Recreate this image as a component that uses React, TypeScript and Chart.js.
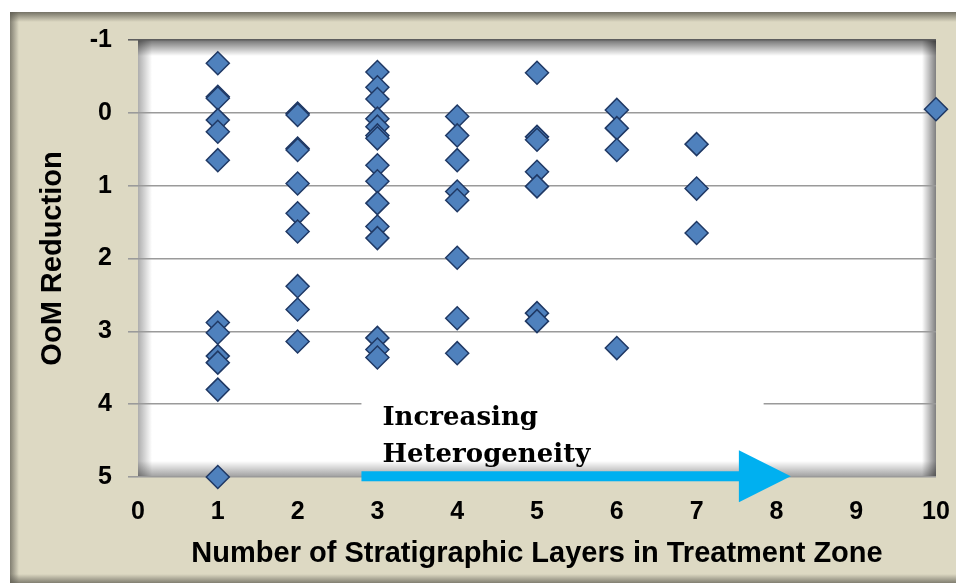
import React, { useEffect, useRef } from "react";
import { Chart, registerables } from "chart.js";

Chart.register(...registerables);

// ---- data (x = number of stratigraphic layers, y = OoM reduction) ----
const layerCounts = [1, 2, 3, 4, 5, 6, 7, 10];
const oomLayers1 = [-0.68, -0.22, -0.2, 0.1, 0.26, 0.65, 2.88, 3.02, 3.34, 3.43, 3.8, 5.0];
const oomLayers2 = [0.01, 0.03, 0.49, 0.51, 0.97, 1.38, 1.63, 2.38, 2.7, 3.14];
const oomLayers3 = [-0.56, -0.35, -0.19, 0.08, 0.19, 0.31, 0.35, 0.72, 0.94, 1.24, 1.56, 1.72, 3.09, 3.25, 3.36];
const oomLayers4 = [0.05, 0.31, 0.65, 1.08, 1.2, 1.99, 2.82, 3.3];
const oomLayers5 = [-0.55, 0.33, 0.37, 0.81, 1.01, 2.75, 2.86];
const oomLayers6 = [-0.04, 0.21, 0.51, 3.23];
const oomLayers7 = [0.43, 1.04, 1.65];
const oomLayers10 = [-0.05];
const oomByLayer = [oomLayers1, oomLayers2, oomLayers3, oomLayers4, oomLayers5, oomLayers6, oomLayers7, oomLayers10];

const xTickValues = [0, 1, 2, 3, 4, 5, 6, 7, 8, 9, 10];
const yTickValues = [-1, 0, 1, 2, 3, 4, 5];

const xTitle = "Number of Stratigraphic Layers in Treatment Zone";
const yTitle = "OoM Reduction";
const annotationLines = ["Increasing", "Heterogeneity"];
// annotation anchor values (data units)
const arrowStartX = 2.8;
const arrowBaseX = 7.53;
const arrowTipX = 8.18;
const arrowY = 4.99;
const boxRightX = 7.84;
const boxTopY = 3.97;
const boxBottomY = 4.74;
const textLineY = [4.29, 4.8];

const points = layerCounts.flatMap((n, i) => oomByLayer[i].map((v) => ({ x: n, y: v })));

const framePlugin = {
  id: "frame",
  beforeDraw(chart: any) {
    const { ctx, width, height, chartArea: a } = chart;
    ctx.save();
    ctx.fillStyle = "#ffffff";
    ctx.fillRect(0, 0, width, height);
    ctx.fillStyle = "#DDD9C3";
    ctx.fillRect(10, 12, width - 10, height - 12);
    let g = ctx.createLinearGradient(0, 12, 0, 22);
    g.addColorStop(0, "rgba(90,88,78,0.8)");
    g.addColorStop(1, "rgba(90,88,78,0)");
    ctx.fillStyle = g;
    ctx.fillRect(10, 12, width - 10, 10);
    g = ctx.createLinearGradient(10, 0, 19, 0);
    g.addColorStop(0, "rgba(90,88,78,0.7)");
    g.addColorStop(1, "rgba(90,88,78,0)");
    ctx.fillStyle = g;
    ctx.fillRect(10, 12, 9, height - 12);
    g = ctx.createLinearGradient(0, height - 9, 0, height);
    g.addColorStop(0, "rgba(90,88,78,0)");
    g.addColorStop(1, "rgba(90,88,78,0.7)");
    ctx.fillStyle = g;
    ctx.fillRect(10, height - 9, width - 10, 9);

    // plot area
    const w = a.right - a.left;
    const h = a.bottom - a.top;
    ctx.fillStyle = "#ffffff";
    ctx.fillRect(a.left, a.top, w, h);
    g = ctx.createLinearGradient(0, a.top, 0, a.top + 16);
    g.addColorStop(0, "rgba(0,0,0,0.55)");
    g.addColorStop(1, "rgba(0,0,0,0)");
    ctx.fillStyle = g;
    ctx.fillRect(a.left, a.top, w, 16);
    g = ctx.createLinearGradient(a.left, 0, a.left + 14, 0);
    g.addColorStop(0, "rgba(0,0,0,0.32)");
    g.addColorStop(1, "rgba(0,0,0,0)");
    ctx.fillStyle = g;
    ctx.fillRect(a.left, a.top, 14, h);
    g = ctx.createLinearGradient(a.right, 0, a.right - 14, 0);
    g.addColorStop(0, "rgba(0,0,0,0.5)");
    g.addColorStop(1, "rgba(0,0,0,0)");
    ctx.fillStyle = g;
    ctx.fillRect(a.right - 14, a.top, 14, h);
    g = ctx.createLinearGradient(0, a.bottom, 0, a.bottom - 16);
    g.addColorStop(0, "rgba(0,0,0,0.38)");
    g.addColorStop(1, "rgba(0,0,0,0)");
    ctx.fillStyle = g;
    ctx.fillRect(a.left, a.bottom - 16, w, 16);
    ctx.restore();
  },
};

const annotationPlugin = {
  id: "heterogeneity",
  beforeDatasetsDraw(chart: any) {
    const { ctx } = chart;
    const xs = chart.scales.x;
    const ys = chart.scales.y;
    const x0 = xs.getPixelForValue(arrowStartX);
    const x1 = xs.getPixelForValue(boxRightX);
    const y0 = ys.getPixelForValue(boxTopY);
    const y1 = ys.getPixelForValue(boxBottomY);
    ctx.save();
    ctx.fillStyle = "#ffffff";
    ctx.fillRect(x0, y0, x1 - x0, y1 - y0);
    ctx.restore();
  },
  afterDatasetsDraw(chart: any) {
    const { ctx } = chart;
    const xs = chart.scales.x;
    const ys = chart.scales.y;
    const x0 = xs.getPixelForValue(arrowStartX);
    const xb = xs.getPixelForValue(arrowBaseX);
    const xt = xs.getPixelForValue(arrowTipX);
    const yc = ys.getPixelForValue(arrowY);
    ctx.save();
    ctx.fillStyle = "#00B0F0";
    ctx.fillRect(x0, yc - 5, xb - x0 + 1, 10);
    ctx.beginPath();
    ctx.moveTo(xb, yc - 26);
    ctx.lineTo(xt, yc);
    ctx.lineTo(xb, yc + 26);
    ctx.closePath();
    ctx.fill();
    ctx.fillStyle = "#000000";
    ctx.font = 'bold 26px "DejaVu Serif", serif';
    ctx.textAlign = "left";
    ctx.textBaseline = "alphabetic";
    annotationLines.forEach((t, i) => {
      ctx.fillText(t, x0 + 21, ys.getPixelForValue(textLineY[i]));
    });
    ctx.restore();
  },
};

export default function App() {
  const ref = useRef<HTMLCanvasElement | null>(null);
  useEffect(() => {
    document.body.style.margin = "0";
    if (!ref.current) return;
    const tickFont = { family: "'Liberation Sans', Arial, sans-serif", size: 25, weight: "bold" as const };
    const titleFont = { family: "'Liberation Sans', Arial, sans-serif", size: 29, weight: "bold" as const };
    const chart = new Chart(ref.current, {
      type: "scatter",
      data: {
        datasets: [
          {
            data: points,
            pointStyle: "rectRot",
            pointRadius: 11.5,
            pointHoverRadius: 11.5,
            backgroundColor: "#4F81BD",
            borderColor: "#1F3864",
            borderWidth: 1.5,
            clip: false as any,
          },
        ],
      },
      options: {
        responsive: false,
        animation: false,
        devicePixelRatio: 1,
        layout: { padding: { top: 40, right: 20, left: 0, bottom: 0 } },
        plugins: { legend: { display: false }, tooltip: { enabled: false } },
        events: [],
        scales: {
          x: {
            type: "linear",
            min: 0,
            max: 10,
            afterBuildTicks: (s: any) => {
              s.ticks = xTickValues.map((v) => ({ value: v }));
            },
            ticks: { font: tickFont, color: "#000", padding: 20, maxRotation: 0, autoSkip: false },
            grid: { display: false, drawTicks: false },
            border: { display: false },
            title: { display: true, text: xTitle, font: titleFont, color: "#000", padding: { top: 0, bottom: 12 } },
            afterFit: (s: any) => {
              s.height = 106;
              s.paddingLeft = 0;
              s.paddingRight = 0;
            },
          },
          y: {
            type: "linear",
            min: -1,
            max: 5,
            reverse: true,
            afterBuildTicks: (s: any) => {
              s.ticks = yTickValues.map((v) => ({ value: v }));
            },
            ticks: { font: tickFont, color: "#000", padding: 16 },
            grid: {
              color: (c: any) => (c.tick && c.tick.value === -1 ? "#5e5e5e" : "#9a9a9a"),
              lineWidth: 1.6,
              tickLength: 10,
            },
            border: { display: false },
            title: { display: true, text: yTitle, font: titleFont, color: "#000", padding: { top: 36, bottom: 0 } },
            afterFit: (s: any) => {
              s.width = 138;
            },
          },
        },
      },
      plugins: [framePlugin, annotationPlugin],
    });
    return () => chart.destroy();
  }, []);
  return (
    <div style={{ width: 956, height: 583 }}>
      <canvas ref={ref} width={956} height={583} style={{ display: "block" }} />
    </div>
  );
}
